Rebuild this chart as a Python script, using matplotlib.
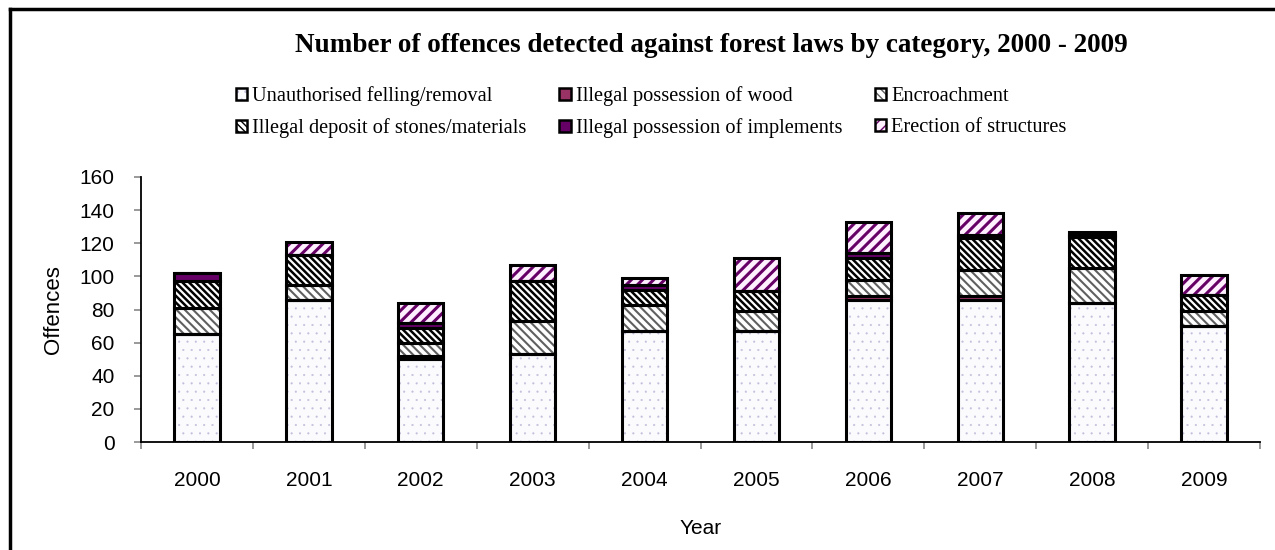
import numpy as np
import matplotlib
matplotlib.use("Agg")
import matplotlib.pyplot as plt
from matplotlib.patches import Patch
from matplotlib.lines import Line2D

# ── Data ───────────────────────────────────────
years = ["2000", "2001", "2002", "2003", "2004", "2005", "2006", "2007", "2008", "2009"]
felling = [65, 86, 50, 53, 67, 67, 86, 86, 84, 70]
wood = [0, 0, 2, 0, 0, 0, 2, 2, 0, 0]
encroachment = [16, 9, 8, 20, 16, 12, 10, 16, 21, 9]
deposit = [16, 18, 9, 24, 9, 12, 13, 19, 19, 10]
implements = [5, 0, 3, 0, 3, 0, 3, 2, 1, 0]
erection = [0, 8, 12, 10, 4, 20, 19, 13, 2, 12]

names = ["Unauthorised felling/removal", "Illegal possession of wood", "Encroachment",
         "Illegal deposit of stones/materials", "Illegal possession of implements",
         "Erection of structures"]
series = [felling, wood, encroachment, deposit, implements, erection]

# face colour, hatch colour, hatch, hatch linewidth
styles = [
    ("#fbfbfd", "#c2bedb", "..", 0.3),
    ("#993366", "#993366", None, 1.0),
    ("white", "#606060", "\\\\\\\\", 1.5),
    ("white", "black", "\\\\\\\\\\", 1.8),
    ("#660066", "#660066", None, 1.0),
    ("#fff0ff", "#660066", "///", 2.2),
]

fig = plt.figure(figsize=(12.75, 5.5), dpi=100)
ax = fig.add_axes([141 / 1275, 1 - 442 / 550, (1260 - 141) / 1275, (442 - 177) / 550])

x = np.arange(len(years))
width = 0.405
bottom = np.zeros(len(years))
handles = []
for vals, (fc, hc, hatch, hlw) in zip(series, styles):
    vals = np.array(vals, dtype=float)
    with plt.rc_context({"hatch.linewidth": hlw}):
        ax.bar(x, vals, width, bottom=bottom, color=fc, edgecolor=hc, hatch=hatch,
               linewidth=0, zorder=2)
        fill_patch = Patch(facecolor=fc, edgecolor=hc, hatch=hatch, linewidth=0)
    ax.bar(x, vals, width, bottom=bottom, fill=False, edgecolor="black",
           linewidth=2.2, zorder=3)
    bottom += vals
    handles.append((fill_patch, Patch(fill=False, edgecolor="black", linewidth=1.8)))

ax.set_xlim(-0.5, len(years) - 0.5)
ax.set_ylim(0, 160)
ax.set_yticks(range(0, 161, 20))
ax.set_xticks(x)
ax.set_xticklabels(years)
ax.set_xticks(np.arange(-0.5, len(years), 1), minor=True)
ax.tick_params(axis="x", which="major", length=0, pad=21, labelsize=15)
ax.tick_params(axis="x", which="minor", length=5, color="#888888", direction="out", width=1.2)
ax.tick_params(axis="y", length=5, color="#888888", labelsize=15, pad=14, width=1.2)
for lab in ax.get_xticklabels() + ax.get_yticklabels():
    lab.set_fontfamily("Liberation Sans")
for s in ["top", "right"]:
    ax.spines[s].set_visible(False)
ax.spines["left"].set_linewidth(1.3)
ax.spines["bottom"].set_linewidth(1.3)

ax.set_ylabel("Offences", fontsize=16, fontfamily="Liberation Sans")
ax.yaxis.set_label_coords((64 - 141) / 1119, 0.5)
ax.set_xlabel("Year", fontsize=15, fontfamily="Liberation Sans", va="center")
ax.xaxis.set_label_coords(0.5, (442 - 528) / 265)

fig.text(711 / 1275, 1 - 46 / 550, "Number of offences detected against forest laws by category, 2000 - 2009",
         ha="center", va="center", fontsize=19.5, fontweight="bold", fontfamily="Liberation Serif")

order = [0, 3, 1, 4, 2, 5]
fig.legend([handles[i] for i in order], [names[i] for i in order], ncol=3,
           loc="upper left", bbox_to_anchor=(236 / 1275, 1 - 86 / 550),
           frameon=False, prop={"family": "Liberation Serif", "size": 14.7},
           handlelength=0.55, handleheight=0.55, handletextpad=0.25,
           columnspacing=1.6, labelspacing=0.6, borderaxespad=0, borderpad=0)

# outer border (top and left edges visible)
fig.add_artist(Line2D([10 / 1275, 1], [1 - 9 / 550, 1 - 9 / 550], color="black", linewidth=2.5))
fig.add_artist(Line2D([10 / 1275, 10 / 1275], [0, 1 - 9 / 550], color="black", linewidth=2.5))

fig.savefig("out.png", dpi=100)
